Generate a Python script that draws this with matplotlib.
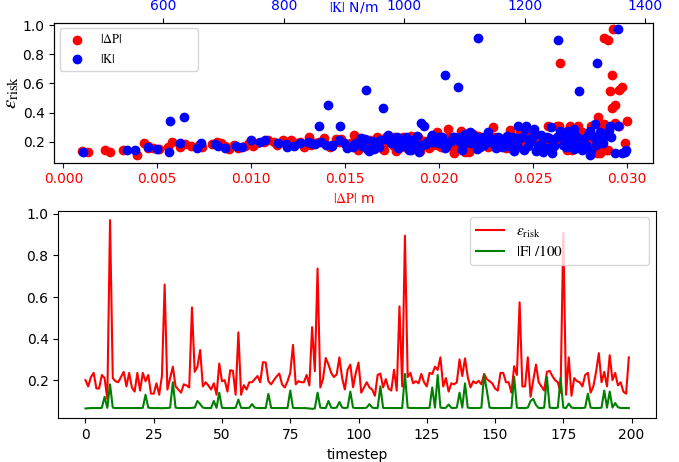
import matplotlib
matplotlib.use("Agg")
import matplotlib.pyplot as plt
import numpy as np

plt.rcParams['mathtext.fontset'] = 'stix'

# ---- data ----
timesteps = list(range(200))

eps_risk = [
    0.20, 0.17, 0.215, 0.235, 0.16, 0.16, 0.225, 0.21, 0.11, 0.97,
    0.21, 0.195, 0.19, 0.215, 0.24, 0.17, 0.235, 0.165, 0.145, 0.235,
    0.15, 0.235, 0.195, 0.225, 0.135, 0.135, 0.185, 0.13, 0.22, 0.66,
    0.155, 0.21, 0.265, 0.17, 0.155, 0.14, 0.18, 0.175, 0.165, 0.55,
    0.24, 0.265, 0.345, 0.17, 0.19, 0.175, 0.155, 0.185, 0.13, 0.28,
    0.195, 0.20, 0.145, 0.248, 0.245, 0.13, 0.43, 0.13, 0.176, 0.155,
    0.19, 0.19, 0.205, 0.22, 0.19, 0.287, 0.285, 0.195, 0.18, 0.20,
    0.218, 0.232, 0.18, 0.165, 0.195, 0.235, 0.37, 0.18, 0.195, 0.19,
    0.19, 0.225, 0.175, 0.455, 0.243, 0.737, 0.165, 0.205, 0.307, 0.275,
    0.235, 0.215, 0.228, 0.31, 0.21, 0.155, 0.25, 0.275, 0.166, 0.235,
    0.285, 0.14, 0.165, 0.19, 0.165, 0.155, 0.125, 0.225, 0.232, 0.165,
    0.205, 0.16, 0.15, 0.25, 0.15, 0.555, 0.17, 0.895, 0.215, 0.235,
    0.185, 0.195, 0.185, 0.23, 0.19, 0.17, 0.235, 0.23, 0.265, 0.25,
    0.31, 0.17, 0.21, 0.145, 0.185, 0.18, 0.19, 0.30, 0.22, 0.305,
    0.215, 0.165, 0.195, 0.185, 0.197, 0.18, 0.23, 0.205, 0.195, 0.185,
    0.16, 0.15, 0.235, 0.235, 0.19, 0.19, 0.14, 0.267, 0.225, 0.575,
    0.17, 0.17, 0.31, 0.12, 0.20, 0.275, 0.19, 0.17, 0.15, 0.24,
    0.245, 0.22, 0.20, 0.19, 0.14, 0.91, 0.13, 0.31, 0.125, 0.21,
    0.195, 0.19, 0.17, 0.225, 0.235, 0.14, 0.17, 0.24, 0.33, 0.19,
    0.24, 0.17, 0.32, 0.20, 0.235, 0.175, 0.19, 0.145, 0.135, 0.31,
]

force_over_100 = [
    0.064, 0.065, 0.066, 0.066, 0.066, 0.066, 0.067, 0.120, 0.067, 0.180,
    0.068, 0.066, 0.066, 0.066, 0.066, 0.066, 0.066, 0.066, 0.066, 0.066,
    0.066, 0.067, 0.130, 0.068, 0.066, 0.066, 0.066, 0.066, 0.065, 0.066,
    0.066, 0.068, 0.190, 0.068, 0.066, 0.066, 0.066, 0.066, 0.066, 0.067,
    0.068, 0.100, 0.085, 0.068, 0.066, 0.066, 0.066, 0.100, 0.067, 0.140,
    0.067, 0.066, 0.066, 0.066, 0.066, 0.067, 0.107, 0.067, 0.066, 0.066,
    0.067, 0.085, 0.068, 0.066, 0.066, 0.066, 0.066, 0.134, 0.067, 0.066,
    0.066, 0.066, 0.066, 0.066, 0.066, 0.150, 0.067, 0.066, 0.066, 0.066,
    0.066, 0.065, 0.064, 0.062, 0.064, 0.140, 0.068, 0.066, 0.066, 0.100,
    0.068, 0.066, 0.068, 0.095, 0.068, 0.066, 0.068, 0.145, 0.068, 0.066,
    0.066, 0.066, 0.066, 0.068, 0.085, 0.068, 0.066, 0.066, 0.170, 0.067,
    0.066, 0.066, 0.066, 0.066, 0.066, 0.066, 0.066, 0.230, 0.068, 0.066,
    0.066, 0.066, 0.066, 0.066, 0.066, 0.066, 0.067, 0.165, 0.068, 0.225,
    0.068, 0.066, 0.067, 0.083, 0.067, 0.066, 0.068, 0.140, 0.068, 0.185,
    0.068, 0.066, 0.066, 0.066, 0.066, 0.068, 0.225, 0.150, 0.068, 0.066,
    0.066, 0.066, 0.066, 0.066, 0.066, 0.066, 0.067, 0.216, 0.068, 0.066,
    0.066, 0.066, 0.068, 0.100, 0.110, 0.080, 0.066, 0.066, 0.068, 0.215,
    0.068, 0.066, 0.066, 0.068, 0.210, 0.068, 0.066, 0.087, 0.068, 0.066,
    0.066, 0.066, 0.066, 0.068, 0.135, 0.068, 0.066, 0.066, 0.066, 0.068,
    0.150, 0.068, 0.145, 0.068, 0.090, 0.070, 0.066, 0.066, 0.066, 0.066,
]

delta_p = [
    0.0182, 0.0045, 0.0214, 0.0197, 0.0093, 0.0166, 0.0232, 0.0121, 0.0039, 0.0293,
    0.0248, 0.0107, 0.0175, 0.0269, 0.0211, 0.0068, 0.0189, 0.0142, 0.0022, 0.0226,
    0.0051, 0.0283, 0.0136, 0.0205, 0.0010, 0.0190, 0.0079, 0.0025, 0.0259, 0.0292,
    0.0162, 0.0117, 0.0276, 0.0086, 0.0045, 0.0171, 0.0219, 0.0132, 0.0062, 0.0291,
    0.0266, 0.0199, 0.0300, 0.0097, 0.0150, 0.0238, 0.0048, 0.0186, 0.0208, 0.0238,
    0.0126, 0.0194, 0.0032, 0.0276, 0.0155, 0.0216, 0.0292, 0.0013, 0.0072, 0.0179,
    0.0229, 0.0103, 0.0160, 0.0251, 0.0084, 0.0205, 0.0274, 0.0147, 0.0195, 0.0058,
    0.0222, 0.0172, 0.0114, 0.0243, 0.0187, 0.0211, 0.0285, 0.0091, 0.0163, 0.0256,
    0.0043, 0.0178, 0.0203, 0.0294, 0.0245, 0.02645, 0.0128, 0.0191, 0.0263, 0.0212,
    0.0167, 0.0281, 0.0224, 0.0281, 0.0109, 0.0195, 0.0249, 0.0268, 0.0074, 0.0176,
    0.0287, 0.0157, 0.0201, 0.0099, 0.0226, 0.0183, 0.0208, 0.0139, 0.0255, 0.0056,
    0.0192, 0.0236, 0.0170, 0.0215, 0.0286, 0.0296, 0.0119, 0.0290, 0.0163, 0.0273,
    0.0203, 0.0082, 0.0244, 0.0186, 0.0153, 0.0229, 0.0196, 0.0131, 0.0290, 0.0218,
    0.0264, 0.0176, 0.0210, 0.0289, 0.0065, 0.0199, 0.0233, 0.0229, 0.0145, 0.0270,
    0.0188, 0.0214, 0.0112, 0.0241, 0.0173, 0.0206, 0.0282, 0.0156, 0.0227, 0.0194,
    0.0209, 0.0088, 0.0252, 0.0181, 0.0222, 0.0134, 0.0271, 0.0243, 0.0286, 0.02974,
    0.0168, 0.0215, 0.0258, 0.0284, 0.0201, 0.0288, 0.0124, 0.0190, 0.0239, 0.0221,
    0.0279, 0.0148, 0.0235, 0.0207, 0.0290, 0.0288, 0.0214, 0.0296, 0.0286, 0.0182,
    0.0262, 0.0217, 0.0101, 0.0283, 0.0230, 0.0268, 0.0205, 0.0185, 0.0294, 0.0240,
    0.0277, 0.0159, 0.0288, 0.0219, 0.0265, 0.0197, 0.0299, 0.0213, 0.0177, 0.0274,
]

stiffness = [
    1012, 720, 1145, 1083, 905, 1236, 1190, 768, 1308, 1355,
    1280, 862, 1058, 1322, 1170, 690, 987, 1125, 540, 1254,
    950, 1343, 1038, 1212, 941, 1182, 804, 610, 1297, 1067,
    1152, 745, 1215, 998, 655, 1096, 1263, 880, 575, 1290,
    1021, 1108, 611, 1205, 927, 1318, 702, 1070, 1230, 1340,
    840, 1135, 553, 1045, 972, 1366, 965, 466, 1187, 1015,
    1110, 790, 1271, 935, 662, 1200, 1282, 1050, 870, 760,
    1160, 1002, 1246, 914, 1327, 1092, 635, 1029, 1174, 981,
    628, 1142, 1301, 874, 1226, 1320, 958, 1077, 859, 1258,
    1119, 892, 1191, 893, 1043, 1285, 1101, 1308, 730, 1130,
    1215, 1008, 1268, 845, 1162, 990, 1349, 928, 1180, 805,
    1060, 1233, 938, 1335, 1121, 937, 880, 1255, 1089, 1212,
    1036, 1288, 917, 1155, 978, 1249, 1063, 1196, 1325, 1107,
    1033, 1171, 1014, 1295, 686, 1126, 899, 1244, 1049, 1202,
    960, 1278, 1093, 851, 1163, 1019, 1314, 946, 1138, 1227,
    1067, 590, 1264, 1081, 1184, 921, 1310, 1139, 1240, 1089,
    1003, 1222, 1355, 1361, 1045, 1272, 826, 1150, 1282, 1115,
    1304, 968, 1208, 1100, 1368, 1122, 1024, 1188, 1245, 994,
    1165, 1330, 817, 1273, 1057, 1199, 930, 1285, 1027, 1176,
    1333, 1069, 1316, 984, 1237, 1132, 1293, 1011, 1218, 1341,
]

dp_ticks = [0.000, 0.005, 0.010, 0.015, 0.020, 0.025, 0.030]
k_ticks = [600, 800, 1000, 1200, 1400]
y_ticks = [0.2, 0.4, 0.6, 0.8, 1.0]
t_ticks = [0, 25, 50, 75, 100, 125, 150, 175, 200]

# ---- figure ----
W, H = 679, 462
fig = plt.figure(figsize=(W / 100, H / 100), dpi=100)

ax1 = fig.add_axes([54.3 / W, 1 - 162.7 / H, 599 / W, 140 / H])
ax1.scatter(delta_p, eps_risk, s=36, c='red', label=r'$|\Delta\mathrm{P}|$', zorder=2)
ax1.set_xlim(-0.00048, 0.03142)
ax1.set_ylim(0.056, 1.016)
ax1.set_xticks(dp_ticks)
ax1.set_xticklabels(['%.3f' % v for v in dp_ticks])
ax1.set_yticks(y_ticks)
ax1.tick_params(axis='x', colors='blue', labelcolor='red')
ax1.set_xlabel(r'$|\Delta\mathrm{P}|$ m', color='red')
ax1.set_ylabel(r'$\varepsilon_{\rm risk}$', fontsize=15, labelpad=1)

ax2 = ax1.twiny()
ax2.scatter(stiffness, eps_risk, s=36, c='blue', label=r'$|\mathrm{K}|$', zorder=2)
ax2.set_xlim(419, 1413)
ax2.set_xticks(k_ticks)
ax2.tick_params(axis='x', labelcolor='blue')
ax2.set_xlabel(r'$|\mathrm{K}|$ N/m', color='blue', labelpad=-9)

h1, l1 = ax1.get_legend_handles_labels()
h2, l2 = ax2.get_legend_handles_labels()
ax2.legend(h1 + h2, l1 + l2, loc='upper left', mode='expand',
           bbox_to_anchor=(0.0095, 0.69, 0.23, 0.27), borderaxespad=0,
           fontsize=9)

ax3 = fig.add_axes([58.3 / W, 1 - 418.3 / H, 597.7 / W, 207.6 / H])
ax3.plot(timesteps, eps_risk, color='red', lw=1.5, label=r'$\varepsilon_{\rm risk}$')
ax3.plot(timesteps, force_over_100, color='green', lw=1.5, label=r'$|\mathrm{F}|\ /100$')
ax3.set_xticks(t_ticks)
ax3.set_yticks(y_ticks)
ax3.set_xlabel('timestep')
ax3.legend(loc='upper right', mode='expand',
           bbox_to_anchor=(0.689, 0.758, 0.30, 0.21), borderaxespad=0,
           fontsize=11, handlelength=1.8, labelspacing=0.3)

fig.savefig('out.png', dpi=100)
